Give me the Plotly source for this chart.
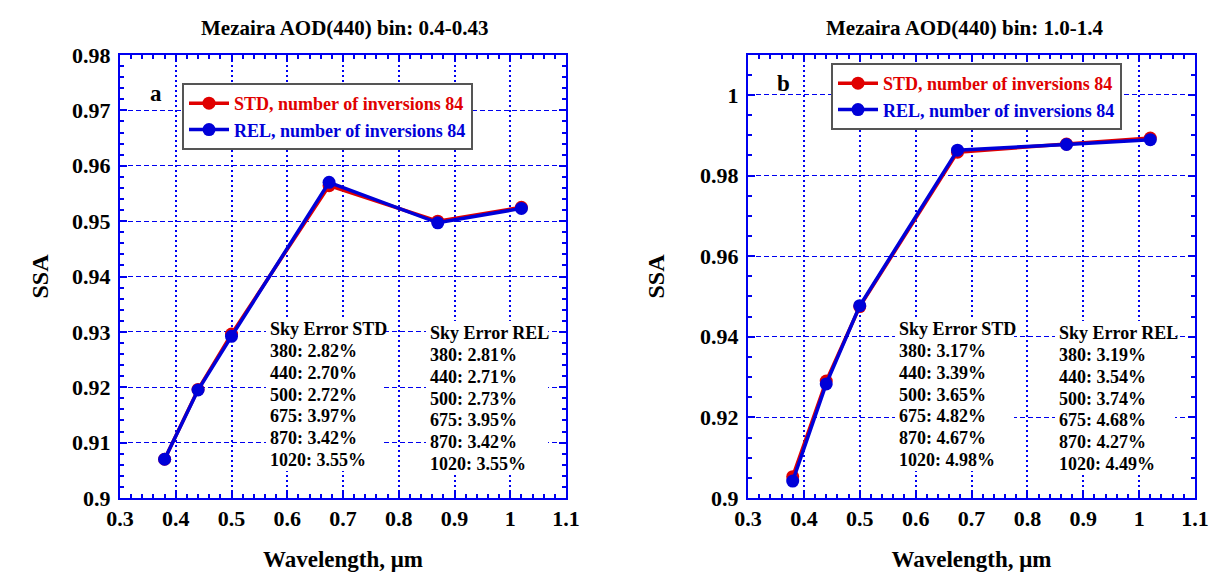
import plotly.graph_objects as go

wavelength = [0.38, 0.44, 0.5, 0.675, 0.87, 1.02]

# Panel a: AOD(440) bin 0.4-0.43
ssa_std_a = [0.9070, 0.9196, 0.9296, 0.9564, 0.9500, 0.9525]
ssa_rel_a = [0.9070, 0.9195, 0.9292, 0.9570, 0.9497, 0.9523]

# Panel b: AOD(440) bin 1.0-1.4
ssa_std_b = [0.9053, 0.9290, 0.9475, 0.9858, 0.9878, 0.9893]
ssa_rel_b = [0.9042, 0.9283, 0.9477, 0.9863, 0.9877, 0.9889]

titles = ["Mezaira AOD(440) bin: 0.4-0.43", "Mezaira AOD(440) bin: 1.0-1.4"]
legend_std = "STD, number of inversions 84"
legend_rel = "REL, number of inversions 84"

sky_std_a = ["380: 2.82%", "440: 2.70%", "500: 2.72%", "675: 3.97%", "870: 3.42%", "1020: 3.55%"]
sky_rel_a = ["380: 2.81%", "440: 2.71%", "500: 2.73%", "675: 3.95%", "870: 3.42%", "1020: 3.55%"]
sky_std_b = ["380: 3.17%", "440: 3.39%", "500: 3.65%", "675: 4.82%", "870: 4.67%", "1020: 4.98%"]
sky_rel_b = ["380: 3.19%", "440: 3.54%", "500: 3.74%", "675: 4.68%", "870: 4.27%", "1020: 4.49%"]

FONT = "Liberation Serif"
RED = "#e00000"
BLUE = "#0000d8"
AX = "#0000f0"
W, H = 1210, 576

fig = go.Figure()

def add_pair(std, rel, xa, ya, leg):
    fig.add_trace(go.Scatter(x=wavelength, y=std, mode="lines+markers", name=legend_std,
                             line=dict(color=RED, width=3.5), marker=dict(size=13, color=RED),
                             xaxis=xa, yaxis=ya, legend=leg))
    fig.add_trace(go.Scatter(x=wavelength, y=rel, mode="lines+markers", name=legend_rel,
                             line=dict(color=BLUE, width=3.5), marker=dict(size=13, color=BLUE),
                             xaxis=xa, yaxis=ya, legend=leg))

add_pair(ssa_std_a, ssa_rel_a, "x", "y", "legend")
add_pair(ssa_std_b, ssa_rel_b, "x2", "y2", "legend2")

ydom = [1 - 498 / H, 1 - 55 / H]

def xaxis(dom, anchor):
    return dict(domain=dom, anchor=anchor, range=[0.3, 1.1], dtick=0.1, tick0=0.3,
                automargin=False,
                ticks="inside", ticklen=7, tickwidth=1.5, tickcolor=AX,
                showline=True, linecolor=AX, linewidth=2, mirror="allticks",
                showgrid=True, gridcolor=AX, gridwidth=1.5, griddash="2px,3px",
                zeroline=False,
                minor=dict(dtick=0.02, ticks="inside", ticklen=4, tickcolor=AX, showgrid=False),
                tickfont=dict(family=FONT, size=22, color="black", weight="bold"),
                title=dict(text="<b>Wavelength, μm</b>", standoff=20,
                           font=dict(family=FONT, size=23, color="black")))

def yaxis(anchor, rng, dtick, minor, standoff):
    return dict(domain=ydom, anchor=anchor, range=rng, dtick=dtick, tick0=0.9,
                automargin=False,
                ticks="inside", ticklen=7, tickwidth=1.5, tickcolor=AX,
                showline=True, linecolor=AX, linewidth=2, mirror="allticks",
                showgrid=True, gridcolor=AX, gridwidth=1.2, griddash="5px,3px",
                zeroline=False, ticklabelstandoff=3,
                minor=dict(dtick=minor, ticks="inside", ticklen=4, tickcolor=AX, showgrid=False),
                tickfont=dict(family=FONT, size=22, color="black", weight="bold"),
                title=dict(text="<b>SSA</b>", standoff=standoff,
                           font=dict(family=FONT, size=24, color="black")))

fig.update_layout(
    width=W, height=H,
    margin=dict(l=0, r=0, t=0, b=0, autoexpand=False),
    paper_bgcolor="white", plot_bgcolor="white",
    font=dict(family=FONT),
    xaxis=xaxis([120 / W, 566 / W], "y"),
    yaxis=yaxis("x", [0.9, 0.98], 0.01, 0.002, 17),
    xaxis2=xaxis([748 / W, 1195 / W], "y2"),
    yaxis2=yaxis("x2", [0.9, 1.0099], 0.02, 0.005, 29),
    legend=dict(x=182 / W, y=1 - 83 / H, xanchor="left", yanchor="top",
                bgcolor="white", bordercolor="#555555", borderwidth=2,
                font=dict(family=FONT, size=18), tracegroupgap=0, itemwidth=40),
    legend2=dict(x=831 / W, y=1 - 63 / H, xanchor="left", yanchor="top",
                 bgcolor="white", bordercolor="#555555", borderwidth=2,
                 font=dict(family=FONT, size=18), tracegroupgap=0, itemwidth=40),
    showlegend=True,
)

for tr in fig.data:
    col = RED if tr.name == legend_std else BLUE
    tr.name = f"<span style='color:{col}'><b>{tr.name}</b></span>"

# titles
for txt, cx in zip(titles, [345 / W, 965 / W]):
    fig.add_annotation(text=f"<b>{txt}</b>", xref="paper", yref="paper", x=cx, y=1 - 28 / H,
                       xanchor="center", yanchor="middle", showarrow=False,
                       font=dict(family=FONT, size=21, color="black"))

# panel labels
fig.add_annotation(text="<b>a</b>", xref="paper", yref="paper", x=148 / W, y=1 - 79 / H,
                   showarrow=False, font=dict(family=FONT, size=23, color="black"))
fig.add_annotation(text="<b>b</b>", xref="paper", yref="paper", x=783 / W, y=1 - 69 / H,
                   showarrow=False, font=dict(family=FONT, size=23, color="black"))

def block(title, lines, x, y0, x1):
    top = y0 - 11
    bottom = y0 + 22 + 5 * 21.8 + 12
    # white box behind the text block (covers the grid, as in the original)
    fig.add_annotation(text=" ", xref="paper", yref="paper", x=(x - 2) / W, y=1 - top / H,
                       xanchor="left", yanchor="top", showarrow=False,
                       width=x1 - x + 2, height=bottom - top, borderpad=0, borderwidth=0,
                       bgcolor="white", font=dict(size=2))
    rows = [title] + lines
    for i, t in enumerate(rows):
        yy = y0 if i == 0 else y0 + 22 + (i - 1) * 21.8
        fig.add_annotation(text=f"<b>{t}</b>", xref="paper", yref="paper", x=x / W, y=1 - (yy + 1) / H,
                           xanchor="left", yanchor="middle", align="left", showarrow=False,
                           font=dict(family=FONT, size=18, color="black"))

block("Sky Error STD", sky_std_a, 268, 328, 382)
block("Sky Error REL", sky_rel_a, 428, 332, 548)
block("Sky Error STD", sky_std_b, 897, 328, 1014)
block("Sky Error REL", sky_rel_b, 1057, 332, 1175)

fig.write_html("out.html")
